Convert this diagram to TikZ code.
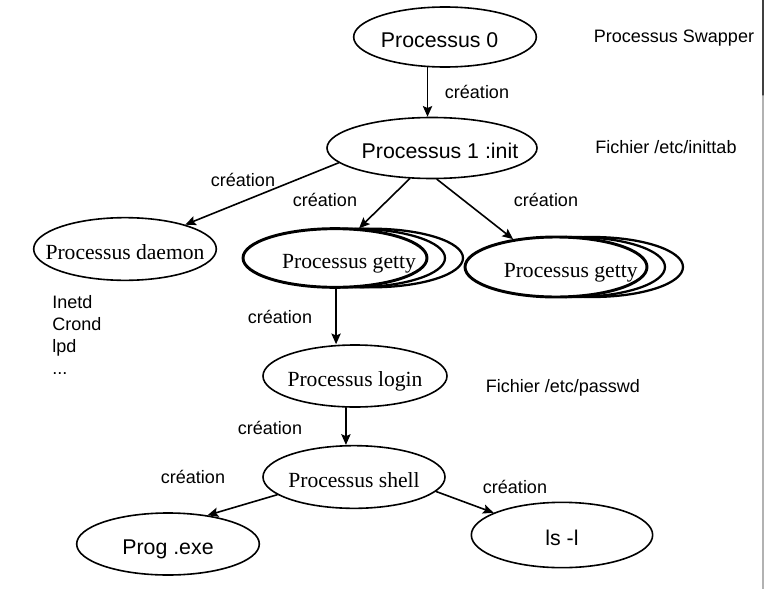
\documentclass[tikz,border=0pt]{standalone}
\usepackage{fontspec}
\setmainfont{Liberation Serif}
\setsansfont{Liberation Sans}
\usetikzlibrary{shapes.geometric}
\usetikzlibrary{shadows}
\usetikzlibrary{arrows.meta}

\tikzset{
  proc/.style={ellipse, draw, line width=1.2pt, inner sep=0pt,
    text height=16pt, text depth=1pt},
  srif/.style={font=\rmfamily\fontsize{16.2}{19}\selectfont},
  sans/.style={font=\sffamily\fontsize{16}{19}\selectfont},
  getty/.style={proc, srif, line width=2.2pt, fill=white,
    copy shadow={shadow xshift=27pt, shadow yshift=0pt, line width=1.7pt},
    copy shadow={shadow xshift=13.5pt, shadow yshift=0pt, line width=1.7pt}},
  note/.style={font=\sffamily\fontsize{13.5}{16.5}\selectfont, inner sep=0pt},
  cree/.style={->, line width=1.2pt},
}

\begin{document}
\begin{tikzpicture}[x=0.75pt, y=-0.75pt, line cap=round, line join=round,
  >={Stealth[length=8pt, width=7pt, inset=1.5pt]}]
  \useasboundingbox (0,0) rectangle (764,589);
  %--- Processus 0
    \node[proc, sans, minimum width=137pt, minimum height=45pt] (p0) at (445,37) {\makebox[0pt]{Processus 0\hspace*{8pt}}};
    \node[note] (swapper) at (674,38) {Processus Swapper};
  %--- Processus 1
    \node[proc, sans, minimum width=157.5pt, minimum height=45.75pt] (p1) at (432,148) {\makebox[0pt]{\hspace*{12pt}Processus 1 :init}};
    \node[note] (inittab) at (666,147) {Fichier /etc/inittab};
    \draw[cree] (p0.240) -- (p0.240 |- p1.north);
    \node[note] (c0) at (477,92) {création};
  %--- daemon
    \node[proc, srif, minimum width=137pt, minimum height=47pt] (daemon) at (125,249) {\makebox[0pt]{Processus daemon}};
    \node[note, align=left, anchor=north west] (demons) at (52,295) {Inetd\\Crond\\lpd\\...};
    \draw[cree] (p1.189) -- (daemon.22);
    \node[note] (c1) at (243,180) {création};
  %--- getty
    \node[getty, minimum width=138pt, minimum height=44pt] (getty1) at (335,258) {\makebox[0pt]{\hspace*{21pt}Processus getty}};
    \node[getty, minimum width=136.5pt, minimum height=45pt] (getty2) at (556,267) {\makebox[0pt]{\hspace*{22pt}Processus getty}};
    \draw[cree] (p1.234) -- (getty1.51);
    \node[note] (c2) at (325,200) {création};
    \draw[cree] (p1.-81) -- (getty2.147);
    \node[note] (c3) at (546,200) {création};
  %--- login
    \node[proc, srif, minimum width=138pt, minimum height=46.5pt] (login) at (355,376) {\makebox[0pt]{Processus login}};
    \node[note] (passwd) at (563,388) {Fichier /etc/passwd};
    \draw[cree] (getty1.-88) -- (getty1.-88 |- login.north);
    \node[note] (c4) at (280,317) {création};
  %--- shell
    \node[proc, srif, minimum width=136.5pt, minimum height=47pt] (shell) at (354,477) {\makebox[0pt]{Processus shell}};
    \draw[cree] (login.254) -- (login.254 |- shell.north);
    \node[note] (c5) at (270,428) {création};
  %--- Prog .exe
    \node[proc, sans, minimum width=137pt, minimum height=46.5pt] (prog) at (168,544) {\makebox[0pt]{Prog .exe}};
    \draw[cree] (shell.193) -- (prog.36);
    \node[note] (c6) at (193,477) {création};
  %--- ls -l
    \node[proc, sans, minimum width=136pt, minimum height=49pt] (ls) at (562,535) {\makebox[0pt]{ls -l}};
    \draw[cree] (shell.-10) -- (ls.162);
    \node[note] (c7) at (515,487) {création};
  %--- bord droit
    \draw[gray!60, line width=0.8pt] (763,95) -- (763,589);
    \draw[black!75, line width=0.8pt] (763,0) -- (763,95);
\end{tikzpicture}
\end{document}
